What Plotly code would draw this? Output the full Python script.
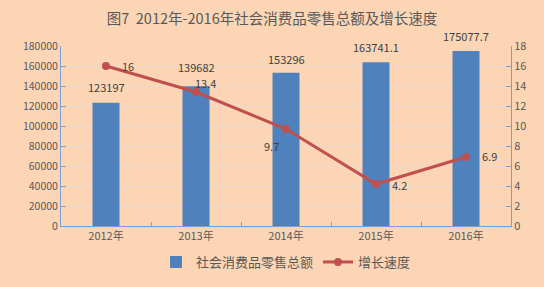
import plotly.graph_objects as go

years = ["2012年", "2013年", "2014年", "2015年", "2016年"]
sales = [123197, 139682, 153296, 163741.1, 175077.7]
sales_labels = ["123197", "139682", "153296", "163741.1", "175077.7"]
sales_shift = [16, 19, 14, 15, 15]
growth = [16, 13.4, 9.7, 4.2, 6.9]
growth_shift = [(22, 0), (9, 9), (-15, -17), (23, -1), (23, 1)]

font_cjk = "Noto Sans CJK SC, Noto Sans, sans-serif"
bg = "#FCD5B5"
grid = "#E6DAD3"
axis_c = "#7A9ED6"
txt = "#595959"
lbl = "#404040"

fig = go.Figure()
fig.add_trace(go.Bar(
    x=years, y=sales, name="社会消费品零售总额",
    marker=dict(color="#4F81BD", line=dict(width=0)),
    width=0.3,
))
fig.add_trace(go.Scatter(
    x=years, y=growth, name="增长速度", yaxis="y2",
    mode="lines+markers",
    line=dict(color="#C0504D", width=3),
    marker=dict(color="#C0504D", size=8),
    cliponaxis=False,
))

annotations = []
for yr, v, t, dy in zip(years, sales, sales_labels, sales_shift):
    annotations.append(dict(x=yr, y=v, xref="x", yref="y", text=t, showarrow=False,
                            yshift=dy, font=dict(size=11, color=lbl)))
for yr, v, (dx, dy) in zip(years, growth, growth_shift):
    annotations.append(dict(x=yr, y=v, xref="x", yref="y2", text=str(v), showarrow=False,
                            xshift=dx, yshift=dy, font=dict(size=11, color=lbl)))

fig.update_layout(
    width=544, height=287,
    paper_bgcolor=bg, plot_bgcolor=bg,
    margin=dict(l=61, r=33, t=46, b=61, autoexpand=False),
    font=dict(family=font_cjk, color=txt, size=11),
    title=dict(text="图7  2012年-2016年社会消费品零售总额及增长速度",
               x=0.5, xanchor="center", y=0.935, yanchor="middle",
               font=dict(size=14.5, color=txt)),
    xaxis=dict(showline=True, linecolor=axis_c, linewidth=1, ticks="inside",
               tickson="boundaries", ticklen=4, tickcolor=axis_c,
               tickfont=dict(size=11, color=txt), showgrid=False),
    yaxis=dict(range=[0, 180000], dtick=20000, showline=True, linecolor=axis_c,
               ticks="inside", ticklen=5, tickcolor=axis_c,
               gridcolor=grid, gridwidth=1, tickfont=dict(size=10.5, color=txt),
               zeroline=False, tickformat="d"),
    yaxis2=dict(range=[0, 18], dtick=2, overlaying="y", side="right",
                showline=True, linecolor=axis_c, ticks="inside", ticklen=5,
                tickcolor=axis_c, showgrid=False, zeroline=False,
                tickfont=dict(size=11, color=txt)),
    legend=dict(orientation="h", x=0.5, xanchor="center", y=-0.2, yanchor="middle",
                font=dict(size=13, color=txt), bgcolor="rgba(0,0,0,0)",
                itemwidth=30, tracegroupgap=0),
    annotations=annotations,
    showlegend=True,
)

fig.write_html("out.html")
